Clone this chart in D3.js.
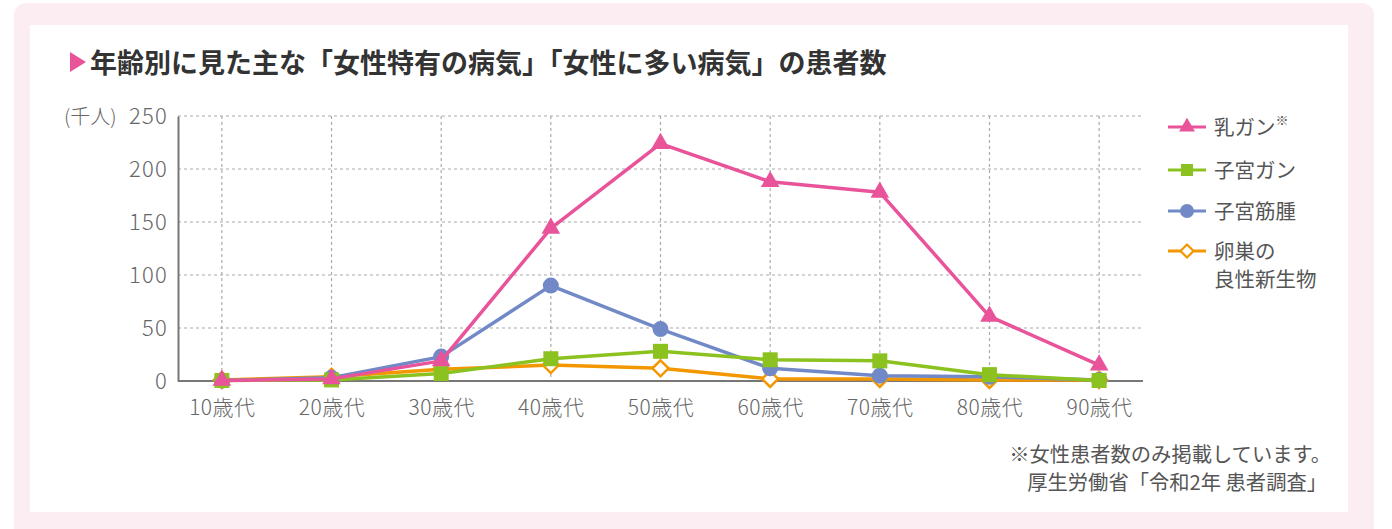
<!DOCTYPE html>
<html>
<head>
<meta charset="utf-8">
<script src="https://cdn.jsdelivr.net/npm/d3@7"></script>
<style>
  body { margin:0; background:#fff; }
  svg text { font-family:"Noto Sans CJK JP","Noto Sans",sans-serif; }
</style>
</head>
<body>
<svg id="chart"></svg>
<script>
const W = 1392, H = 529;

const ages = ['10歳代','20歳代','30歳代','40歳代','50歳代','60歳代','70歳代','80歳代','90歳代'];
const yTicks = [0,50,100,150,200,250];
const breastCancer = [0.5, 2, 19, 144, 224, 188, 178, 61, 15];
const uterineCancer = [0.5, 1, 7, 21, 28, 20, 19, 6, 0.5];
const myoma = [0.5, 3, 23, 90, 49, 12, 5, 4, 1];
const ovarian = [1, 4, 11, 15, 12, 2, 2, 1, 1];

const colors = {breast:'#e8539a', uterine:'#8cc21f', myoma:'#7189c6', ovarian:'#f39700'};

const svg = d3.select('#chart').attr('width',W).attr('height',H);

// pink frame + white panel
svg.append('rect').attr('x',14).attr('y',3).attr('width',1360).attr('height',540)
   .attr('rx',12).attr('fill','#fcedf2');
svg.append('rect').attr('x',30).attr('y',25).attr('width',1318).attr('height',487).attr('fill','#fff');

// title
svg.append('path').attr('d','M70,52 L86,62 L70,72 Z').attr('fill','#e8539a');
svg.append('text').attr('x',90).attr('y',73)
   .attr('font-size',27).attr('font-weight','bold').attr('fill','#333')
   .text('年齢別に見た主な「女性特有の病気」「女性に多い病気」の患者数');

const x = d3.scalePoint().domain(ages).range([178,1143]).padding(0.4);
const y = d3.scaleLinear().domain([0,250]).range([381,116]);

const g = svg.append('g');

// grid
g.selectAll('.hg').data(yTicks.filter(d=>d>0)).enter().append('line')
  .attr('x1',178).attr('x2',1143).attr('y1',d=>y(d)).attr('y2',d=>y(d))
  .attr('stroke','#aaa').attr('stroke-width',1.2).attr('stroke-dasharray','3,3');
g.selectAll('.vg').data(ages).enter().append('line')
  .attr('x1',d=>x(d)).attr('x2',d=>x(d)).attr('y1',y(250)).attr('y2',y(0))
  .attr('stroke','#aaa').attr('stroke-width',1.2).attr('stroke-dasharray','3,3');

// axes
const yAxis = g.append('g').attr('transform','translate(178,0)')
  .call(d3.axisLeft(y).tickValues(yTicks).tickSize(0).tickPadding(10));
yAxis.select('.domain').attr('stroke','#777').attr('stroke-width',2);
yAxis.selectAll('text').attr('font-size',22).attr('fill','#666').attr('letter-spacing',1.2)
  .style('font-family','"Noto Sans CJK JP",sans-serif').attr('font-weight',300);

const xAxis = g.append('g').attr('transform','translate(0,381)')
  .call(d3.axisBottom(x).tickSize(0).tickPadding(19));
xAxis.select('.domain').attr('stroke','#777').attr('stroke-width',2).attr('d','M178,0H1143');
xAxis.selectAll('text').attr('font-size',21).attr('fill','#666').attr('letter-spacing',0.5)
  .style('font-family','"Noto Sans CJK JP",sans-serif').attr('font-weight',300);

svg.append('text').attr('x',64).attr('y',y(250)+8).attr('font-size',20).attr('fill','#666')
  .attr('font-weight',300).text('(千人)');

const line = d3.line().x((d,i)=>x(ages[i])).y(d=>y(d));

function drawMarker(sel, type, color){
  if(type==='tri') sel.append('path').attr('d',d3.symbol(d3.symbolTriangle,150)()).attr('fill',color);
  else if(type==='sq') sel.append('rect').attr('x',-7.5).attr('y',-7.5).attr('width',15).attr('height',15).attr('fill',color);
  else if(type==='circ') sel.append('circle').attr('r',8).attr('fill',color);
  else sel.append('path').attr('d','M0,-8L8,0L0,8L-8,0Z').attr('fill','#fff').attr('stroke',color).attr('stroke-width',2.5);
}

const series = [
  {vals:ovarian, color:colors.ovarian, type:'dia'},
  {vals:myoma, color:colors.myoma, type:'circ'},
  {vals:uterineCancer, color:colors.uterine, type:'sq'},
  {vals:breastCancer, color:colors.breast, type:'tri'}
];

series.forEach(s=>{
  g.append('path').datum(s.vals).attr('d',line).attr('fill','none')
    .attr('stroke',s.color).attr('stroke-width',3.5).attr('stroke-linejoin','round');
  g.selectAll(null).data(s.vals).enter().append('g')
    .attr('transform',(d,i)=>`translate(${x(ages[i])},${y(d)})`)
    .each(function(){ drawMarker(d3.select(this), s.type, s.color); });
});

// legend
const legend = [
  {label:'乳ガン', color:colors.breast, type:'tri', y:127, sup:true},
  {label:'子宮ガン', color:colors.uterine, type:'sq', y:170},
  {label:'子宮筋腫', color:colors.myoma, type:'circ', y:211},
  {label:'卵巣の', color:colors.ovarian, type:'dia', y:251, line2:'良性新生物'}
];
legend.forEach(l=>{
  const lg = svg.append('g').attr('transform',`translate(0,${l.y})`);
  lg.append('line').attr('x1',1168).attr('x2',1206).attr('stroke',l.color).attr('stroke-width',3);
  const m = lg.append('g').attr('transform','translate(1187,0)');
  if(l.type==='tri') m.append('path').attr('d',d3.symbol(d3.symbolTriangle,110)()).attr('fill',l.color);
  else if(l.type==='sq') m.append('rect').attr('x',-6).attr('y',-6).attr('width',12).attr('height',12).attr('fill',l.color);
  else if(l.type==='circ') m.append('circle').attr('r',7).attr('fill',l.color);
  else m.append('path').attr('d','M0,-6.5L6.5,0L0,6.5L-6.5,0Z').attr('fill','#fff').attr('stroke',l.color).attr('stroke-width',2.2);
  const t = lg.append('text').attr('x',1214).attr('y',8).attr('font-size',20.5).attr('fill','#555').text(l.label);
  if(l.sup) t.append('tspan').attr('font-size',13).attr('dy',-10).text('※');
  if(l.line2) lg.append('text').attr('x',1214).attr('y',36).attr('font-size',20.5).attr('fill','#555').text(l.line2);
});

// notes
svg.append('text').attr('x',1331).attr('y',462).attr('text-anchor','end').attr('font-size',20.3).attr('fill','#555')
  .text('※女性患者数のみ掲載しています。');
svg.append('text').attr('x',1327).attr('y',490).attr('text-anchor','end').attr('font-size',20.3).attr('fill','#555')
  .text('厚生労働省「令和2年 患者調査」');
</script>
</body>
</html>
